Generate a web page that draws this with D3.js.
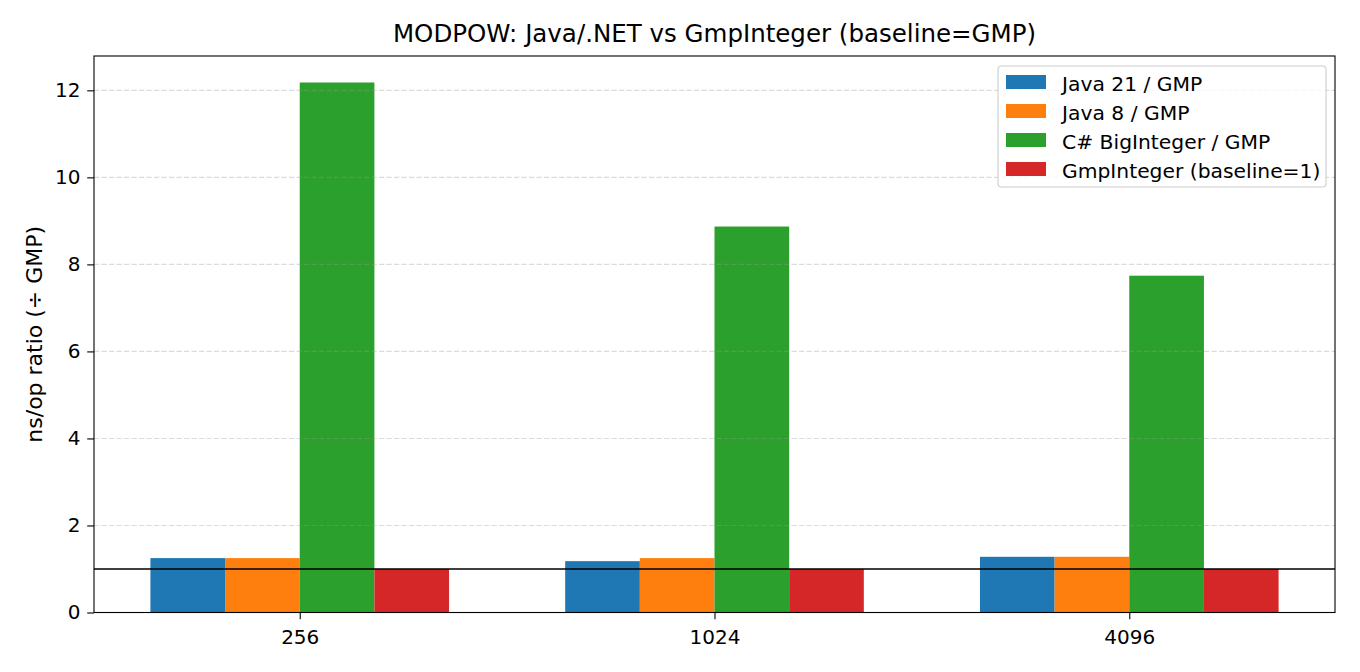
<!DOCTYPE html>
<html>
<head>
<meta charset="utf-8">
<script src="https://cdn.jsdelivr.net/npm/d3@7"></script>
<style>
  html, body { margin: 0; padding: 0; background: #fff; }
  svg { display: block; font-family: "DejaVu Sans", sans-serif; }
</style>
</head>
<body>
<svg id="chart" width="1360" height="672"></svg>
<script>
// ---- data ----
const categories = ["256", "1024", "4096"];
const seriesNames = ["Java 21 / GMP", "Java 8 / GMP", "C# BigInteger / GMP", "GmpInteger (baseline=1)"];
const seriesColors = ["#1f77b4", "#ff7f0e", "#2ca02c", "#d62728"];
const java21 = [1.25, 1.18, 1.28];
const java8 = [1.25, 1.25, 1.28];
const csharp = [12.18, 8.87, 7.74];
const gmp = [1.0, 1.0, 1.0];
const yTicks = [0, 2, 4, 6, 8, 10, 12];
const baselineValue = 1;

const seriesValues = [java21, java8, csharp, gmp];

// ---- layout ----
const W = 1360, H = 672;
const plot = { left: 94, right: 1335, top: 56, bottom: 612.5 };
const fs = 20, legendFs = 20.3, titleFs = 24.5, labelFs = 22;
const barW = 0.18;
const nSeries = seriesValues.length;

const svg = d3.select("#chart");

const xMinData = -0.5 * nSeries * barW;
const xMaxData = categories.length - 1 + 0.5 * nSeries * barW;
const xPad = 0.05 * (xMaxData - xMinData);
const x = d3.scaleLinear().domain([xMinData - xPad, xMaxData + xPad]).range([plot.left, plot.right]);
const yMax = d3.max(seriesValues.flat()) * 1.05;
const y = d3.scaleLinear().domain([0, yMax]).range([plot.bottom, plot.top]);

// bars
seriesValues.forEach((vals, si) => {
  svg.append("g").selectAll("rect").data(vals).join("rect")
    .attr("x", (d, i) => x(i + (si - (nSeries - 1) / 2) * barW - barW / 2))
    .attr("width", x(barW) - x(0))
    .attr("y", d => y(d))
    .attr("height", d => y(0) - y(d))
    .attr("fill", seriesColors[si]);
});

// grid (on top, translucent dashed)
svg.append("g").selectAll("line").data(yTicks).join("line")
  .attr("x1", plot.left).attr("x2", plot.right)
  .attr("y1", d => y(d)).attr("y2", d => y(d))
  .attr("stroke", "#999").attr("stroke-opacity", 0.35)
  .attr("stroke-width", 1.1).attr("stroke-dasharray", "5.2,2.3");

// baseline line
svg.append("line")
  .attr("x1", plot.left).attr("x2", plot.right)
  .attr("y1", y(baselineValue)).attr("y2", y(baselineValue))
  .attr("stroke", "#000").attr("stroke-width", 1.6);

// axes
const xAxis = d3.axisBottom(x).tickValues(categories.map((c, i) => i))
  .tickFormat(i => categories[i]).tickSize(6.8).tickPadding(6.8);
const gx = svg.append("g").attr("transform", `translate(0,${plot.bottom})`).call(xAxis);
const yAxis = d3.axisLeft(y).tickValues(yTicks).tickFormat(d3.format("d")).tickSize(6.8).tickPadding(6.8);
const gy = svg.append("g").attr("transform", `translate(${plot.left},0)`).call(yAxis);
[gx, gy].forEach(g => {
  g.select(".domain").remove();
  g.selectAll(".tick line").attr("stroke", "#000").attr("stroke-width", 1.1);
  g.selectAll(".tick text").attr("fill", "#000").style("font-size", fs + "px")
    .style("font-family", "DejaVu Sans");
});
gx.selectAll(".tick text").attr("dy", "0.88em");

// frame
svg.append("rect")
  .attr("x", plot.left).attr("y", plot.top)
  .attr("width", plot.right - plot.left).attr("height", plot.bottom - plot.top)
  .attr("fill", "none").attr("stroke", "#000").attr("stroke-width", 1.1);

// title
svg.append("text")
  .attr("x", (plot.left + plot.right) / 2).attr("y", 42)
  .attr("text-anchor", "middle").style("font-size", titleFs + "px")
  .text("MODPOW: Java/.NET vs GmpInteger (baseline=GMP)");

// y label
svg.append("text")
  .attr("transform", `translate(41.5,${(plot.top + plot.bottom) / 2}) rotate(-90)`)
  .attr("text-anchor", "middle").style("font-size", labelFs + "px")
  .text("ns/op ratio (÷ GMP)");

// legend
const lg = svg.append("g");
lg.append("rect")
  .attr("x", 998).attr("y", 66).attr("width", 328).attr("height", 121)
  .attr("rx", 3.5).attr("fill", "#fff").attr("fill-opacity", 0.8)
  .attr("stroke", "#ccc").attr("stroke-width", 1.1);
seriesNames.forEach((name, i) => {
  const ry = 75 + i * 29;
  lg.append("rect").attr("x", 1006).attr("y", ry).attr("width", 40).attr("height", 14)
    .attr("fill", seriesColors[i]);
  lg.append("text").attr("x", 1062).attr("y", ry + 15.5)
    .style("font-size", legendFs + "px").text(name);
});
</script>
</body>
</html>
